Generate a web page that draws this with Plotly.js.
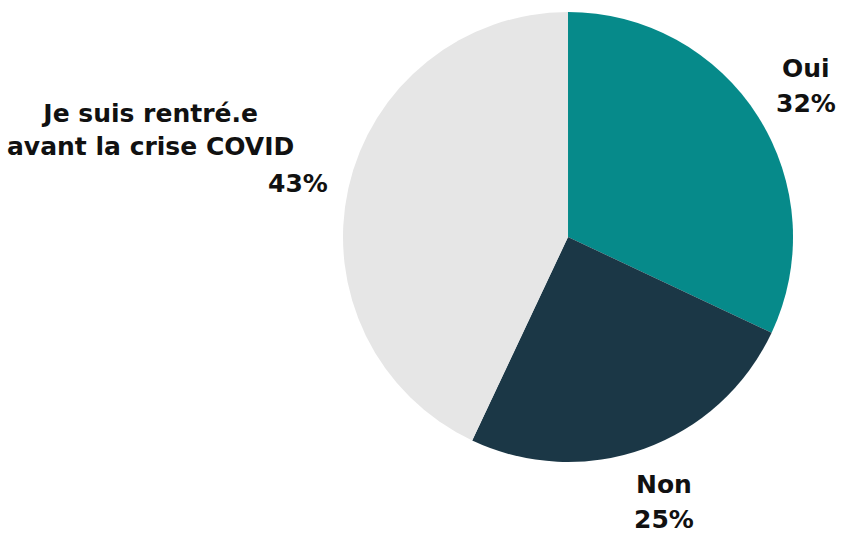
<!DOCTYPE html>
<html>
<head>
<meta charset="utf-8">
<script src="https://cdn.plot.ly/plotly-3.0.1.min.js"></script>
<style>html,body{margin:0;padding:0;background:#fff;}#chart{width:844px;height:533px;}</style>
</head>
<body>
<div id="chart"></div>
<script>
const labels = ["Oui", "Non", "Je suis rentré.e<br>avant la crise COVID"];
const values = [32, 25, 43];
const colors = ["#068a8a", "#1b3746", "#e6e6e6"];

const W = 844, H = 533;
const domX = [0.4064, 0.9396], domY = [0.1332, 0.9775];
const font = {family: "'DejaVu Sans', sans-serif", size: 25, color: "#111", weight: "bold"};

// geometry derived from the pie domain
const cx = W * (domX[0] + domX[1]) / 2;
const cy = H * (1 - (domY[0] + domY[1]) / 2);
const R = Math.min(W * (domX[1] - domX[0]), H * (domY[1] - domY[0])) / 2;
const total = values.reduce((a, b) => a + b, 0);

const annotations = [];
let cum = 0;
values.forEach((v, i) => {
  const mid = (cum + v / 2) / total;
  cum += v;
  const th = (90 - 360 * mid) * Math.PI / 180;
  const pct = Math.round(100 * v / total) + "%";
  const left = Math.cos(th) < -0.3;
  const r = left ? R + 19 : R + 57;
  const px = cx + r * Math.cos(th), py = cy - r * Math.sin(th);
  const base = {xref: "paper", yref: "paper", x: px / W, y: 1 - py / H, showarrow: false, font: font, align: "center"};
  if (left) {
    annotations.push(Object.assign({}, base, {text: pct, xanchor: "right", yanchor: "middle"}));
    annotations.push(Object.assign({}, base, {text: labels[i], xanchor: "right", xshift: -34, yanchor: "bottom", yshift: 21}));
  } else {
    annotations.push(Object.assign({}, base, {text: labels[i], xanchor: "center", yanchor: "bottom", yshift: 1}));
    annotations.push(Object.assign({}, base, {text: pct, xanchor: "center", yanchor: "top", yshift: -1}));
  }
});

Plotly.newPlot("chart", [{
  type: "pie",
  labels: labels,
  values: values,
  sort: false,
  direction: "clockwise",
  rotation: 0,
  marker: {colors: colors, line: {width: 0}},
  textinfo: "none",
  hoverinfo: "none",
  domain: {x: domX, y: domY},
  showlegend: false
}], {
  width: W, height: H,
  margin: {l: 0, r: 0, t: 0, b: 0},
  paper_bgcolor: "#fff",
  showlegend: false,
  annotations: annotations
}, {staticPlot: true});
</script>
</body>
</html>
